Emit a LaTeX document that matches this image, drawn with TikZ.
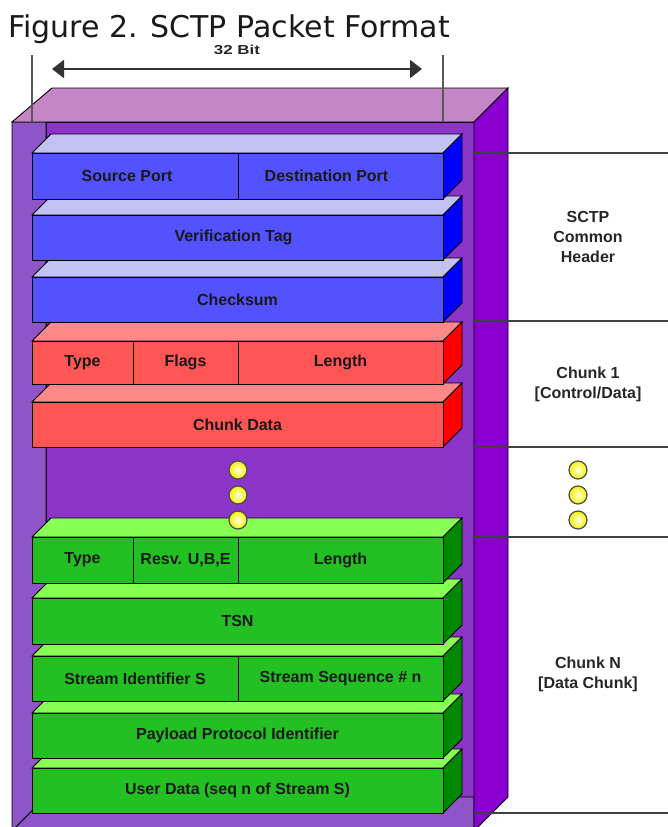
\documentclass[tikz,border=0pt]{standalone}
\usepackage{fontspec}
\setmainfont{Liberation Sans}
\newfontfamily\titlefont{DejaVu Sans}
\usepackage{tikz}
\usetikzlibrary{arrows.meta}
\definecolor{blfront}{RGB}{82,82,255}
\definecolor{bltop}{RGB}{194,194,242}
\definecolor{blside}{RGB}{0,0,255}
\definecolor{rdfront}{RGB}{255,85,85}
\definecolor{rdtop}{RGB}{255,136,136}
\definecolor{rdside}{RGB}{255,0,0}
\definecolor{grfront}{RGB}{34,192,34}
\definecolor{grtop}{RGB}{136,255,85}
\definecolor{grside}{RGB}{0,136,0}
\definecolor{boxtop}{RGB}{196,134,196}
\definecolor{boxside}{RGB}{138,0,208}
\definecolor{boxback}{RGB}{138,53,200}
\definecolor{boxwall}{RGB}{142,85,200}
\newcommand{\makeslab}[4]{
	\fill[#3, draw=black, line width=0.9pt] (32,#1) -- (51,#1-19) -- (462,#1-19) -- (443,#1) -- cycle;
	\fill[#4, draw=black, line width=0.9pt] (443,#1) -- (462,#1-19) -- (462,#2-19) -- (443,#2) -- cycle;
}
\newcommand{\makefield}[7]{
	\node[field, fill=#6, minimum width={(#3-#2)*1pt}, minimum height={(#5-#4)*1pt}] (#1) at ({(#2+#3)/2},{(#4+#5)/2}) {#7};
}

\begin{document}
\begin{tikzpicture}[x=1pt,y=-1pt,
	field/.style={draw=black, line width=0.9pt, inner sep=0pt, text=black!90,
		font=\fontsize{16}{19}\selectfont\bfseries},
	sidelabel/.style={align=center, inner sep=0pt, text=black!85,
		font=\fontsize{16}{20}\selectfont\bfseries},
	dot/.style={circle, minimum size=18pt, inner sep=0pt, draw=black!70, line width=1.2pt,
		inner color=yellow!10!white, outer color=yellow!95!black},
	tableline/.style={draw=black!75, line width=1.4pt},
	dimline/.style={draw=black!65, line width=1.3pt},
	dimarrow/.style={draw=black!80, line width=2pt, {Triangle[length=12pt,width=18pt]}-{Triangle[length=12pt,width=18pt]}}]
	\useasboundingbox (0,0) rectangle (668,827);

	% the box
	\fill[boxback, draw=black, line width=0.9pt] (46,122) rectangle (474,797);
	\fill[boxwall, draw=black, line width=0.9pt] (12,122) -- (46,122) -- (46,797) -- (12,831) -- cycle;
	\fill[boxwall, draw=black, line width=0.9pt] (12,831) -- (46,797) -- (474,797) -- (474,831) -- cycle;
	\fill[boxtop, draw=black, line width=0.9pt] (12,122) -- (52,88) -- (508,88) -- (474,122) -- cycle;
	\fill[boxside, draw=black, line width=0.9pt] (474,122) -- (508,88) -- (508,797) -- (474,831) -- cycle;

	% side table
	\foreach \y in {153,321,447,537,813}
		\draw[tableline] (474,\y) -- (668,\y);

	% width marker
	\node[anchor=base west, inner sep=0pt, text=black!90,
		font=\titlefont\fontsize{30}{34}\selectfont] (title) at (8,37) {Figure 2. SCTP Packet Format};
	\node[inner sep=0pt, text=black!85, font=\fontsize{13}{15}\selectfont\bfseries] (bitlabel) at (237,50) {\scalebox{1.3}[1]{32 Bit}};
	\coordinate (tickltop) at (32,55);
	\coordinate (ticklbot) at (32,122);
	\coordinate (tickrtop) at (443,55);
	\coordinate (tickrbot) at (443,122);
	\coordinate (dimleft) at (52,69);
	\coordinate (dimright) at (422,69);
	\draw[dimline] (tickltop) -- (ticklbot);
	\draw[dimline] (tickrtop) -- (tickrbot);
	\draw[dimarrow] (dimleft) -- (dimright);

	% chunk N
	\makeslab{768}{813}{grtop}{grside}
	\makefield{userdata}{32}{443}{768}{813}{grfront}{User Data (seq n of Stream S)}
	\makeslab{713}{758}{grtop}{grside}
	\makefield{ppid}{32}{443}{713}{758}{grfront}{Payload Protocol Identifier}
	\makeslab{656}{701}{grtop}{grside}
	\makefield{streamid}{32}{238}{656}{701}{grfront}{Stream Identifier S}
	\makefield{streamseq}{238}{443}{656}{701}{grfront}{Stream Sequence \# n}
	\makeslab{598}{644}{grtop}{grside}
	\makefield{tsn}{32}{443}{598}{644}{grfront}{TSN}
	\makeslab{537}{583}{grtop}{grside}
	\makefield{datatype}{32}{133}{537}{583}{grfront}{Type}
	\makefield{dataflags}{133}{238}{537}{583}{grfront}{Resv. U,B,E}
	\makefield{datalength}{238}{443}{537}{583}{grfront}{Length}

	% chunk 1
	\makeslab{402}{447}{rdtop}{rdside}
	\makefield{chunkdata}{32}{443}{402}{447}{rdfront}{Chunk Data}
	\makeslab{341}{384}{rdtop}{rdside}
	\makefield{ctype}{32}{133}{341}{384}{rdfront}{Type}
	\makefield{cflags}{133}{238}{341}{384}{rdfront}{Flags}
	\makefield{clength}{238}{443}{341}{384}{rdfront}{Length}

	% common header
	\makeslab{277}{322}{bltop}{blside}
	\makefield{checksum}{32}{443}{277}{322}{blfront}{Checksum}
	\makeslab{215}{260}{bltop}{blside}
	\makefield{vtag}{32}{443}{215}{260}{blfront}{Verification Tag\hspace*{8pt}}
	\makeslab{153}{199}{bltop}{blside}
	\makefield{srcport}{32}{238}{153}{199}{blfront}{Source Port\hspace*{16pt}}
	\makefield{dstport}{238}{443}{153}{199}{blfront}{Destination Port\hspace*{28pt}}

	% dots
	\foreach \y/\n in {470/1,495/2,520/3} {
		\node[dot] (ldot\n) at (238,\y) {};
		\node[dot] (rdot\n) at (578,\y) {};
	}

	\node[sidelabel] (hdrlabel) at (588,237) {SCTP\\Common\\Header};
	\node[sidelabel] (chunkonelabel) at (588,384) {Chunk 1\\{}[Control/Data]};
	\node[sidelabel] (chunknlabel) at (588,674) {Chunk N\\{}[Data Chunk]};
\end{tikzpicture}
\end{document}
